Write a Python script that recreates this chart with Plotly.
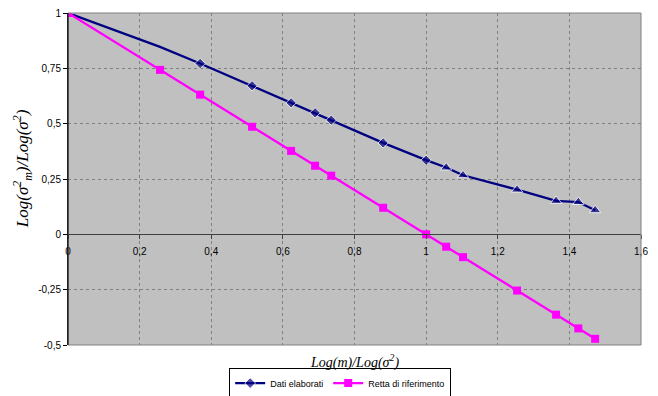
import plotly.graph_objects as go

# Abscissa: Log(m)/Log(sigma^2)
x_vals = [0.0, 0.257, 0.369, 0.514, 0.623, 0.690, 0.735, 0.880, 1.0,
          1.056, 1.103, 1.254, 1.363, 1.425, 1.472]

# Processed data series
dati_elaborati = [1.0, 0.847, 0.772, 0.671, 0.594, 0.549, 0.516, 0.413, 0.335,
                  0.302, 0.267, 0.202, 0.151, 0.146, 0.109]

# Reference line series
retta_riferimento = [1.0, 0.743, 0.631, 0.486, 0.377, 0.31, 0.265, 0.12, 0.0,
                     -0.056, -0.103, -0.254, -0.363, -0.425, -0.472]

y_ticks = [-0.5, -0.25, 0, 0.25, 0.5, 0.75, 1]
y_labels = ["-0,5", "-0,25", "0", "0,25", "0,5", "0,75", "1"]
x_ticks = [0, 0.2, 0.4, 0.6, 0.8, 1, 1.2, 1.4, 1.6]
x_labels = ["0", "0,2", "0,4", "0,6", "0,8", "1", "1,2", "1,4", "1,6"]

NAVY = "#000080"
MAGENTA = "#FF00FF"

blue_symbols = ["diamond"] * 9 + ["triangle-up"] * 6
blue_sizes = [8, 0, 8, 8, 8, 8, 8, 8, 8, 10, 10, 10, 10, 10, 10]

fig = go.Figure()
fig.add_trace(go.Scatter(
    x=x_vals, y=dati_elaborati, name="Dati elaborati",
    mode="lines+markers",
    line=dict(color=NAVY, width=2.3),
    marker=dict(color=NAVY, symbol=blue_symbols, size=blue_sizes),
))
fig.add_trace(go.Scatter(
    x=x_vals, y=retta_riferimento, name="Retta di riferimento",
    mode="lines+markers",
    line=dict(color=MAGENTA, width=2.3),
    marker=dict(color=MAGENTA, symbol="square", size=8),
))

tick_font = dict(family="Liberation Sans, Arial, sans-serif", size=10, color="black")
grid_dash = "3px,3px"

fig.update_layout(
    width=658, height=396,
    margin=dict(l=68, r=17, t=13, b=51, autoexpand=False),
    paper_bgcolor="white",
    plot_bgcolor="#C0C0C0",
    separators=", ",
    font=tick_font,
    showlegend=True,
    legend=dict(
        orientation="h", x=0.475, xanchor="center", y=-0.068, yanchor="top",
        bordercolor="black", borderwidth=1, bgcolor="white",
        font=dict(family="Liberation Sans, Arial, sans-serif", size=9, color="black"),
        itemwidth=30, tracegroupgap=0,
    ),
    xaxis=dict(
        range=[0, 1.6], tickvals=x_ticks, ticktext=x_labels,
        anchor="free", position=1 / 3,
        showline=True, linecolor="#404040", linewidth=1,
        ticks="outside", ticklen=4, tickcolor="#404040",
        ticklabelstandoff=4,
        showgrid=True, gridcolor="#808080", griddash=grid_dash, gridwidth=1,
        zeroline=False, tickfont=tick_font,
    ),
    yaxis=dict(
        range=[-0.5, 1], tickvals=y_ticks, ticktext=y_labels,
        showline=True, linecolor="black", linewidth=1,
        ticks="outside", ticklen=4, tickcolor="black",
        showgrid=True, gridcolor="#808080", griddash=grid_dash, gridwidth=1,
        zeroline=False, tickfont=tick_font,
    ),
    shapes=[
        dict(type="rect", xref="paper", yref="paper", x0=0, x1=1, y0=0, y1=1,
             line=dict(color="#808080", width=1), layer="above"),
        dict(type="line", xref="paper", yref="paper", x0=0, x1=0, y0=0, y1=1,
             line=dict(color="black", width=1), layer="above"),
    ],
    annotations=[
        dict(text="<i>Log(σ<sup>2</sup><sub>m</sub>)/Log(σ<sup>2</sup>)</i>",
             xref="paper", yref="paper", x=-0.08, y=0.53, textangle=-90,
             showarrow=False, xanchor="center", yanchor="middle",
             font=dict(family="Liberation Serif, Times New Roman, serif", size=17, color="black")),
        dict(text="<i>Log(m)/Log(σ<sup>2</sup>)</i>",
             xref="paper", yref="paper", x=0.5, y=-0.014, yanchor="top",
             showarrow=False,
             font=dict(family="Liberation Serif, Times New Roman, serif", size=14, color="black")),
    ],
)

fig.write_html("out.html")
